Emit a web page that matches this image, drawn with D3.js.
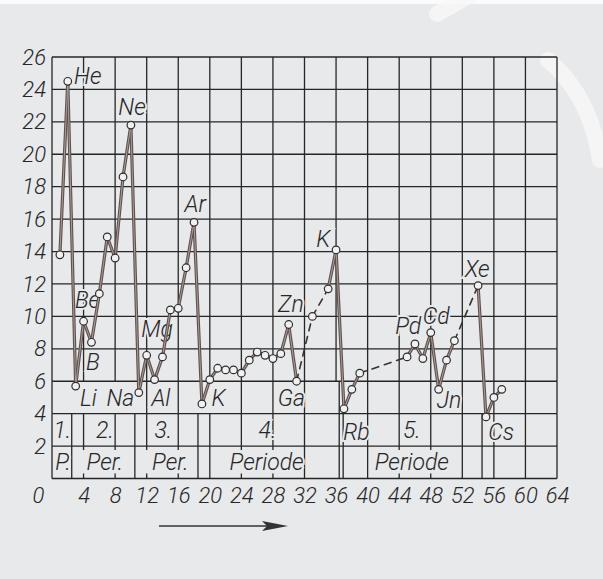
<!DOCTYPE html>
<html>
<head>
<meta charset="utf-8">
<script src="https://cdn.jsdelivr.net/npm/d3@7/dist/d3.min.js"></script>
<style>
  body { margin: 0; background: #e8e9eb; }
  text { font-family: Roboto, "Liberation Sans", Arial, sans-serif; font-style: italic; font-weight: 300; fill: #262626; }
</style>
</head>
<body>
<script>
// atomic number and first ionisation energy (eV)
const atomicNumber = [1, 2, 3, 4, 5, 6, 7, 8, 9, 10, 11, 12, 13, 14, 15, 16, 17, 18, 19, 20,
  21, 22, 23, 24, 25, 26, 27, 28, 29, 30, 31, 33, 35, 36, 37, 38, 39, 45, 46, 47, 48, 49, 50, 51,
  54, 55, 56, 57];
const ionEnergy = [13.8, 24.5, 5.7, 9.7, 8.4, 11.4, 14.9, 13.6, 18.6, 21.8, 5.3, 7.6, 6.1, 7.5,
  10.4, 10.5, 13.0, 15.8, 4.6, 6.1, 6.8, 6.7, 6.7, 6.5, 7.3, 7.8, 7.6, 7.4, 7.7, 9.5, 6.0, 10.0,
  11.7, 14.1, 4.3, 5.5, 6.5, 7.5, 8.3, 7.4, 9.0, 5.5, 7.3, 8.5, 11.9, 3.8, 5.0, 5.5];
// segments starting at these atomic numbers are drawn dashed (gaps in the data)
const dashedFrom = [31, 33, 39, 51];

const xTicks = [0, 4, 8, 12, 16, 20, 24, 28, 32, 36, 40, 44, 48, 52, 56, 60, 64];
const yTicks = [2, 4, 6, 8, 10, 12, 14, 16, 18, 20, 22, 24, 26];

// element names written on the chart (x = start, y = baseline, in data units)
const elementNames = ["He", "Ne", "Ar", "Be", "B", "Mg", "Li", "Na", "Al", "K", "Ga", "Zn", "K", "Rb", "Pd", "Cd", "Jn", "Xe", "Cs"];
const elementX = [2.8, 8.4, 16.8, 2.9, 4.3, 11.3, 3.55, 6.9, 12.6, 20.2, 28.6, 28.65, 33.5, 36.9, 43.5, 47.0, 48.75, 52.3, 55.3];
const elementY = [24.35, 22.4, 16.45, 10.5, 6.7, 8.7, 4.5, 4.5, 4.5, 4.5, 4.5, 10.3, 14.3, 2.4, 8.9, 9.5, 4.35, 12.4, 2.4];

// period table at the bottom
const periodNumbers = ["1.", "2.", "3.", "4.", "5."];
const periodNumberX = [1.3, 6.7, 14.1, 27.3, 45.6];
const periodWords = ["P.", "Per.", "Per.", "Periode", "Periode"];
const periodWordX = [1.4, 6.7, 15.0, 27.2, 45.6];

// vertical rules of the grid and of the three bottom rows
const gridTopX = d3.range(0, 65, 4);
const rowAX = [0, 12, 16, 24, 28, 32, 36.4, 40, 44, 48, 52, 56, 60, 64];
const rowBX = [0, 2.5, 4, 8, 10.5, 12, 16, 18.5, 20, 24, 28, 32, 36.4, 36.9, 40, 44, 48, 52, 54.5, 56, 60, 64];
const rowCX = [0, 2.5, 10.5, 18.5, 20, 32, 36.4, 36.9, 40, 52, 54.5, 56, 60, 64];
const rowCTicks = [4, 8, 12, 16, 24, 28, 44, 48];

const W = 603, H = 579;
const x = d3.scaleLinear().domain([0, 64]).range([52, 557]);
const y = d3.scaleLinear().domain([0, 26]).range([478.5, 57]);

const svg = d3.select("body").append("svg")
  .attr("width", W).attr("height", H);

svg.append("rect").attr("width", W).attr("height", H).attr("fill", "#e8e9eb");
svg.append("rect").attr("width", W).attr("height", 4).attr("fill", "#fbfbfb");

// faint watermark strokes of the scan
svg.append("path")
  .attr("d", "M437,14 L472,-6 M548,60 Q590,95 600,160")
  .attr("stroke", "#f7f7f8").attr("stroke-width", 16).attr("fill", "none")
  .attr("stroke-linecap", "round").attr("opacity", 0.8);

const grid = svg.append("g")
  .attr("stroke", "#262626").attr("stroke-width", 1.3).attr("fill", "none");

// horizontal rules
grid.selectAll("line.h").data(d3.range(0, 27, 2)).join("line")
  .attr("x1", x(0)).attr("x2", x(64))
  .attr("y1", d => y(d)).attr("y2", d => y(d));

// vertical rules
function vlines(xs, y0, y1) {
  grid.append("g").selectAll("line").data(xs).join("line")
    .attr("x1", d => x(d)).attr("x2", d => x(d))
    .attr("y1", y(y0)).attr("y2", y(y1));
}
vlines(gridTopX, 26, 6);
vlines(rowAX, 6, 4);
vlines(rowBX, 4, 2);
vlines(rowCX, 2, 0);
grid.append("g").selectAll("line").data(rowCTicks).join("line")
  .attr("x1", d => x(d)).attr("x2", d => x(d))
  .attr("y1", y(0)).attr("y2", y(0) - 5);
grid.append("g").selectAll("line").data(rowCTicks).join("line")
  .attr("x1", d => x(d)).attr("x2", d => x(d))
  .attr("y1", y(2)).attr("y2", y(2) + 4);

// axes (labels only)
const yAxis = svg.append("g")
  .attr("transform", `translate(${x(0)},0)`)
  .call(d3.axisLeft(y).tickValues(yTicks).tickSize(0).tickPadding(6));
const xAxis = svg.append("g")
  .attr("transform", `translate(0,${y(0)})`)
  .call(d3.axisBottom(x).tickValues(xTicks).tickSize(0).tickPadding(9));
[yAxis, xAxis].forEach(a => {
  a.select(".domain").remove();
  a.selectAll("text")
    .style("font-family", 'Roboto, "Liberation Sans", Arial, sans-serif')
    .style("font-style", "italic")
    .style("font-weight", 300)
    .attr("font-size", 22).attr("fill", "#2a2a2a");
});
xAxis.selectAll(".tick").filter(d => d === 0).select("text").attr("dx", -14);

// labels with a paper-coloured halo, so grid lines break behind them
const labels = svg.append("g")
  .attr("font-size", 23)
  .attr("stroke", "#e8e9eb").attr("stroke-width", 4)
  .attr("paint-order", "stroke");

labels.selectAll("text.el").data(elementNames).join("text")
  .attr("class", "el")
  .attr("x", (d, i) => x(elementX[i]))
  .attr("y", (d, i) => y(elementY[i]))
  .text(d => d);

labels.selectAll("text.pn").data(periodNumbers).join("text")
  .attr("class", "pn")
  .attr("text-anchor", "middle")
  .attr("x", (d, i) => x(periodNumberX[i]))
  .attr("y", y(2.5))
  .text(d => d);

labels.selectAll("text.pw").data(periodWords).join("text")
  .attr("class", "pw")
  .attr("text-anchor", "middle")
  .attr("x", (d, i) => x(periodWordX[i]))
  .attr("y", y(0.5))
  .text(d => d);

// data line, segment by segment
const points = atomicNumber.map((z, i) => ({ z, v: ionEnergy[i] }));
const segments = d3.pairs(points).map(([a, b]) => ({ a, b, dashed: dashedFrom.includes(a.z) }));

const lineG = svg.append("g").attr("fill", "none").attr("stroke-linecap", "round");
lineG.selectAll("line.outer").data(segments.filter(s => !s.dashed)).join("line")
  .attr("x1", s => x(s.a.z)).attr("y1", s => y(s.a.v))
  .attr("x2", s => x(s.b.z)).attr("y2", s => y(s.b.v))
  .attr("stroke", "#5e504d").attr("stroke-width", 3.2);
lineG.selectAll("line.inner").data(segments.filter(s => !s.dashed)).join("line")
  .attr("x1", s => x(s.a.z)).attr("y1", s => y(s.a.v))
  .attr("x2", s => x(s.b.z)).attr("y2", s => y(s.b.v))
  .attr("stroke", "#b1a7a4").attr("stroke-width", 0.9);
lineG.selectAll("line.dash").data(segments.filter(s => s.dashed)).join("line")
  .attr("x1", s => x(s.a.z)).attr("y1", s => y(s.a.v))
  .attr("x2", s => x(s.b.z)).attr("y2", s => y(s.b.v))
  .attr("stroke", "#3a3231").attr("stroke-width", 1.6)
  .attr("stroke-dasharray", "7,6");

svg.append("g").selectAll("circle").data(points).join("circle")
  .attr("cx", d => x(d.z)).attr("cy", d => y(d.v)).attr("r", 3.8)
  .attr("fill", "#f1f1f1").attr("stroke", "#2e2e2e").attr("stroke-width", 1.2);

// arrow under the axis
svg.append("line")
  .attr("x1", 159).attr("x2", 272).attr("y1", 526).attr("y2", 526)
  .attr("stroke", "#333").attr("stroke-width", 1.6);
svg.append("path")
  .attr("d", "M262,521 L288,526 L262,531 L267,526 Z")
  .attr("fill", "#333");
</script>
</body>
</html>
